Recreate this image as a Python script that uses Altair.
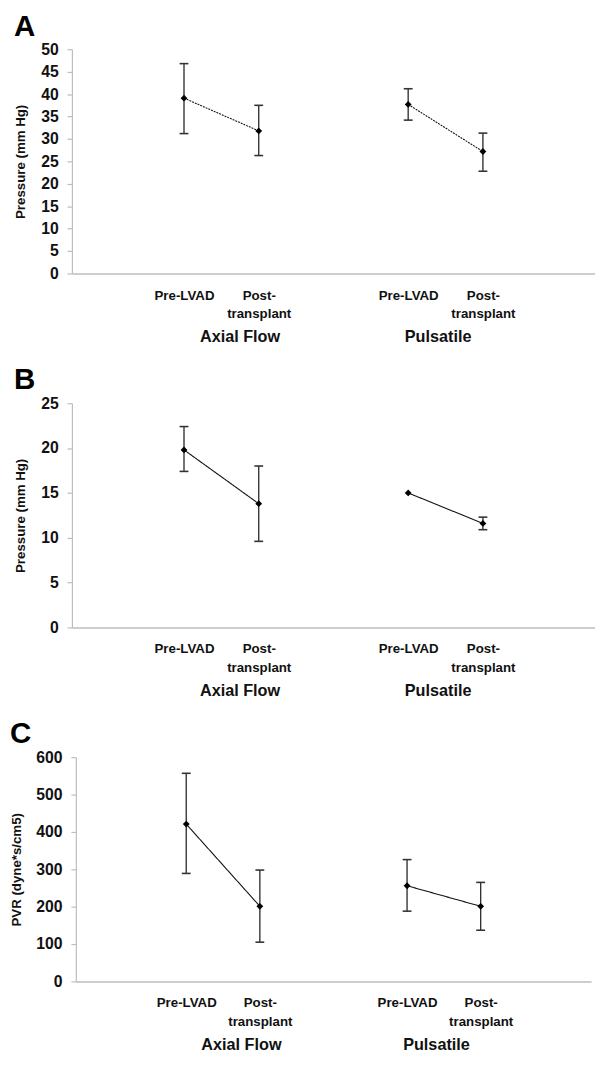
import altair as alt
import pandas as pd

devices = ["Axial Flow", "Pulsatile"]
timepoints = ["Pre-LVAD", "Post-transplant"]

# Panel A: pressure (mm Hg)
a_mean = [39.1, 31.8, 37.7, 27.2]
a_low = [31.2, 26.3, 34.2, 22.8]
a_high = [46.8, 37.5, 41.2, 31.3]

# Panel B: pressure (mm Hg)
b_mean = [19.8, 13.8, 15.0, 11.6]
b_low = [17.4, 9.6, 15.0, 10.9]
b_high = [22.4, 18.0, 15.0, 12.3]

# Panel C: PVR (dyne*s/cm5)
c_mean = [421, 201, 256, 201]
c_low = [289, 105, 188, 137]
c_high = [557, 298, 326, 265]

# group label anchors on the category axis
group_label_pos = [2.25, 4.9]

FONT = "Liberation Sans"
AXIS_GRAY = "#bdbdbd"
BAR_GRAY = "#333333"
H = 228


def slot(i, j):
    return 3 * i + j + 1.5


def panel(letter, ytitle, means, lows, highs, ymax, ystep, width, extent, dash):
    rows = []
    for i, d in enumerate(devices):
        for j, t in enumerate(timepoints):
            k = 2 * i + j
            rows.append(dict(device=d, time=t, slot=slot(i, j),
                             mean=means[k], low=lows[k], high=highs[k]))
    df = pd.DataFrame(rows)
    pre_vals = [slot(i, 0) for i in range(len(devices))]
    cond = " || ".join(f"datum.value == {v}" for v in pre_vals)
    label_expr = f"({cond}) ? '{timepoints[0]}' : ['Post-', 'transplant']"

    xaxis = alt.Axis(values=[slot(i, j) for i in range(2) for j in range(2)],
                     labelExpr=label_expr, ticks=False, grid=False,
                     domainColor=AXIS_GRAY, domainWidth=1.5,
                     labelFont=FONT, labelFontSize=13.5, labelFontWeight="bold",
                     labelColor="#111", labelPadding=15, labelBaseline="top",
                     labelLineHeight=19, labelFlush=False, labelOverlap=False,
                     title=None)
    yaxis = alt.Axis(values=list(range(0, ymax + 1, ystep)), grid=False,
                     domainColor=AXIS_GRAY, domainWidth=1.2,
                     tickColor=AXIS_GRAY, tickSize=5, tickWidth=1.2,
                     labelFont=FONT, labelFontSize=16, labelFontWeight="bold",
                     labelColor="#111", labelPadding=9, labelOverlap=False,
                     minExtent=extent, maxExtent=extent,
                     title=ytitle, titleFont=FONT, titleFontSize=13.5,
                     titleFontWeight="bold", titleColor="#111", titlePadding=12)
    xscale = alt.Scale(domain=[0, 7], nice=False, zero=False)
    yscale = alt.Scale(domain=[0, ymax], nice=False)

    def X():
        return alt.X("slot:Q", scale=xscale, axis=xaxis)

    def Y(f):
        return alt.Y(f"{f}:Q", scale=yscale, axis=yaxis)

    base = alt.Chart(df)
    bars = base.transform_filter("datum.high - datum.low > 0.05")
    line = base.mark_line(color="#111", strokeWidth=1.1, strokeDash=dash).encode(
        x=X(), y=Y("mean"), detail="device:N", order="slot:Q")
    rule = bars.mark_rule(color=BAR_GRAY, strokeWidth=1.4).encode(
        x=X(), y=Y("low"), y2="high:Q")
    cap_lo = bars.mark_tick(color=BAR_GRAY, size=9, thickness=1.6,
                            orient="horizontal", opacity=1).encode(x=X(), y=Y("low"))
    cap_hi = bars.mark_tick(color=BAR_GRAY, size=9, thickness=1.6,
                            orient="horizontal", opacity=1).encode(x=X(), y=Y("high"))
    pts = base.mark_point(shape="diamond", filled=True, color="black", size=48,
                          opacity=1).encode(x=X(), y=Y("mean"))
    gdf = pd.DataFrame({"device": devices, "pos": group_label_pos})
    glab = alt.Chart(gdf).mark_text(font=FONT, fontSize=16.5, fontWeight="bold",
                                    color="#111", baseline="middle").encode(
        x=alt.X("pos:Q", scale=xscale, axis=xaxis), y=alt.value(H + 65), text="device:N")
    return alt.layer(line, rule, cap_lo, cap_hi, pts, glab).properties(
        width=width, height=H,
        title=alt.TitleParams(letter, anchor="start", frame="bounds", font=FONT,
                              fontSize=30, fontWeight="bold", color="black", offset=0))


pa = panel("A", "Pressure (mm Hg)", a_mean, a_low, a_high, 50, 5, 532, 33, [2, 1])
pb = panel("B", "Pressure (mm Hg)", b_mean, b_low, b_high, 25, 5, 532, 33, [1, 0])
pc = panel("C", "PVR (dyne*s/cm5)", c_mean, c_low, c_high, 600, 100, 524, 41, [1, 0])

chart = alt.vconcat(pa, pb, pc, spacing=20, center=True).properties(
    padding={"left": 2, "top": -5, "right": 0, "bottom": 0}
).configure_view(stroke="transparent", strokeWidth=0)

chart.save("out.html", embed_options={"renderer": "svg", "actions": False})
